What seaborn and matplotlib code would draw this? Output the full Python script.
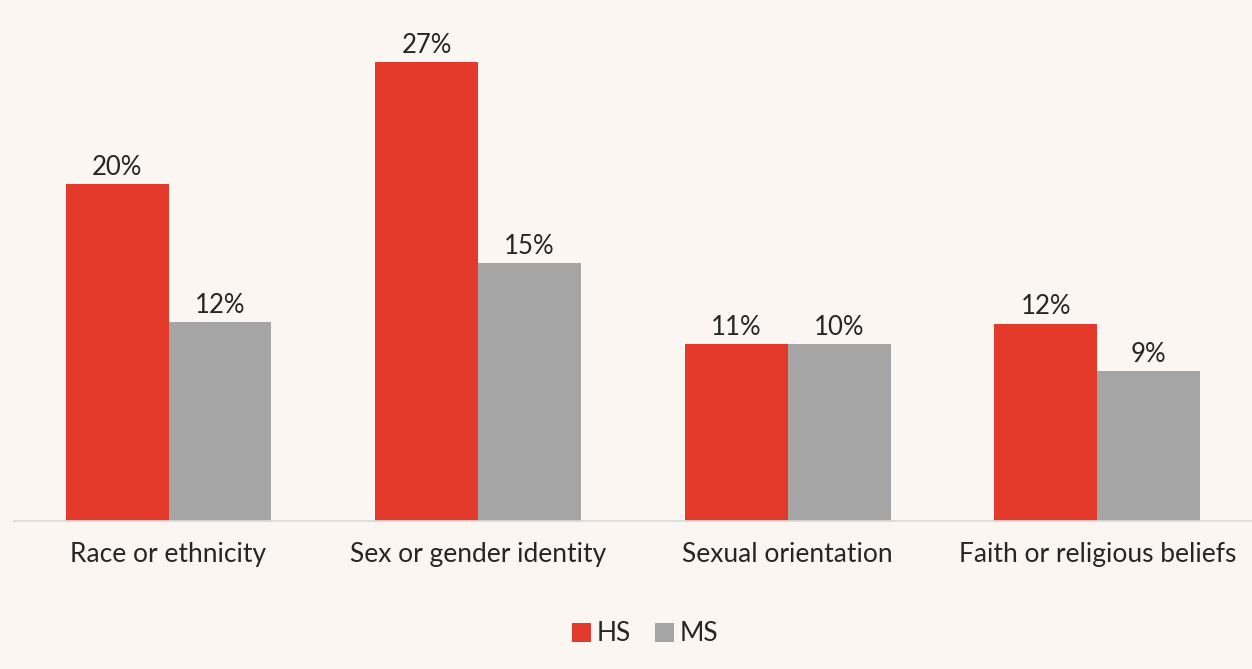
import matplotlib
matplotlib.use("Agg")
import matplotlib.pyplot as plt
import seaborn as sns
import pandas as pd

categories = ["Race or ethnicity", "Sex or gender identity", "Sexual orientation", "Faith or religious beliefs"]
hs_values = [19.94, 27.2, 10.5, 11.7]
ms_values = [11.8, 15.3, 10.5, 8.9]
hs_labels = ["20%", "27%", "11%", "12%"]
ms_labels = ["12%", "15%", "10%", "9%"]
series = ["HS", "MS"]
colors = {"HS": "#E33A2C", "MS": "#A5A5A5"}
bg = "#FBF6F2"

df = pd.DataFrame({
    "category": categories * 2,
    "value": hs_values + ms_values,
    "series": ["HS"] * 4 + ["MS"] * 4,
})

sns.set_theme(style="white")
plt.rcParams["font.family"] = ["Lato", "DejaVu Sans"]

fig = plt.figure(figsize=(12.52, 6.69), dpi=100, facecolor=bg)
ax = fig.add_axes([0.011, 0.2212, 0.989, 0.767])
ax.set_facecolor(bg)

sns.barplot(data=df, x="category", y="value", hue="series", hue_order=series,
            palette=colors, width=0.665, ax=ax, saturation=1, legend=True,
            linewidth=0, edgecolor="none")

for cont, labs in zip(ax.containers, [hs_labels, ms_labels]):
    ax.bar_label(cont, labels=labs, padding=3, fontsize=18.5, color="#262626")

ax.set_xlim(-0.5, 3.5)
ax.set_ylim(0, 30.4)
ax.set_xlabel("")
ax.set_ylabel("")
ax.set_yticks([])
ax.tick_params(axis="x", length=0, labelsize=19, labelcolor="#262626", pad=15)
for s in ["top", "right", "left"]:
    ax.spines[s].set_visible(False)
ax.spines["bottom"].set_color("#D9D9D9")
ax.spines["bottom"].set_linewidth(1.2)

leg = ax.legend(loc="center", bbox_to_anchor=(0.5097, -0.22), ncol=2, frameon=False,
                fontsize=19, handlelength=0.75, handleheight=0.75, handletextpad=0.2,
                columnspacing=0.9, labelcolor="#262626")

fig.savefig("out.png", dpi=100, facecolor=bg)
